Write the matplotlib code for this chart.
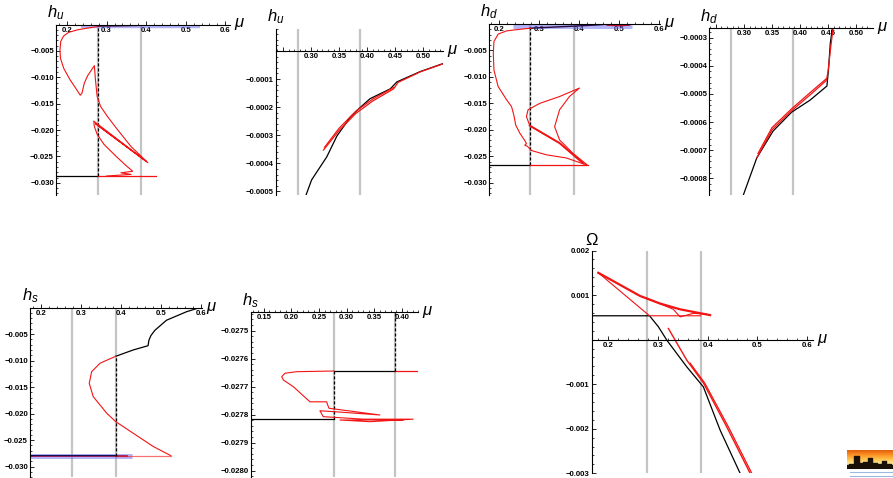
import numpy as np
import matplotlib
matplotlib.use("Agg")
import matplotlib.pyplot as plt
from matplotlib.ticker import FixedLocator, FuncFormatter

plt.rcParams["font.family"] = ["Liberation Sans", "DejaVu Sans"]
plt.rcParams["mathtext.fontset"] = "custom"
plt.rcParams["mathtext.it"] = "Liberation Sans:italic"
plt.rcParams["mathtext.rm"] = "Liberation Sans"

W, H = 893, 478

# critical values of mu (grey lines)
MU1, MU2 = 0.277, 0.387

# ---- panel 1 : h_u, full range
hu_path_mu = [0.276, 0.250, 0.225, 0.2035, 0.191, 0.184, 0.182, 0.1833, 0.1915, 0.2077, 0.223,
              0.2333, 0.2377, 0.2436, 0.252, 0.269,
              0.2718, 0.276, 0.2846, 0.3018, 0.3274, 0.3615, 0.4044,
              0.2718, 0.400, 0.2674,
              0.269, 0.276, 0.2933, 0.323, 0.3487, 0.366,
              0.336, 0.362, 0.30]
hu_path_h = [-0.0004, -0.0007, -0.00104, -0.0015, -0.0022, -0.0032, -0.0048, -0.0064, -0.0083, -0.0105, -0.0122,
             -0.0134, -0.0130, -0.0111, -0.0097, -0.0078,
             -0.0105, -0.0136, -0.0155, -0.0174, -0.0199, -0.0231, -0.0262,
             -0.0188, -0.0259, -0.0183,
             -0.0193, -0.0208, -0.0227, -0.0249, -0.0267, -0.0278,
             -0.0281, -0.0284, -0.0287]
hu_floor = -0.0287
hu_red_end = 0.426
hu_band_mu = [0.236, 0.537]
hu_band_h = -0.0003
hu_dark_mu = [0.277, 0.33, 0.39, 0.45]
hu_dark_h = [-0.0003, -0.00025, -0.00015, -0.00005]

# ---- panel 2 : h_u, zoom
hu2_black_mu = [0.291, 0.301, 0.328, 0.346, 0.37, 0.386, 0.405, 0.441, 0.453, 0.495, 0.535]
hu2_black_h = [-0.000513, -0.000459, -0.000377, -0.000303, -0.000235, -0.000204, -0.000170,
               -0.000135, -0.000110, -0.000073, -0.000045]
hu2_red_mu = [0.322, 0.35, 0.38, 0.41, 0.447, 0.455, 0.495, 0.535]
hu2_red_h = [-0.000353, -0.000283, -0.000222, -0.000178, -0.000135, -0.000112, -0.000074, -0.000046]
hu2_red2_mu = [0.324, 0.35, 0.38, 0.41, 0.447]
hu2_red2_h = [-0.000343, -0.000275, -0.000214, -0.000171, -0.000130]

# ---- panel 3 : h_d, full range
hd_path_mu = [0.279, 0.252, 0.219, 0.1983, 0.1876, 0.186, 0.1876, 0.198, 0.219, 0.2315, 0.2372, 0.242,
              0.252, 0.2645, 0.2687, 0.2645, 0.2712, 0.2811, 0.318, 0.368, 0.4216,
              0.3844, 0.3514, 0.339, 0.3514, 0.376, 0.401,
              0.3514, 0.3017, 0.2727, 0.2687, 0.277, 0.3514, 0.410]
hd_path_h = [-0.0008, -0.0010, -0.0013, -0.0019, -0.0033, -0.0055, -0.0087, -0.0118, -0.0143, -0.0156, -0.0172, -0.0191,
             -0.0206, -0.0220, -0.0226, -0.0229, -0.0231, -0.0239, -0.0247, -0.0253, -0.0267,
             -0.0244, -0.0219, -0.0194, -0.0162, -0.0137, -0.0121,
             -0.0137, -0.0150, -0.0162, -0.0175, -0.0192, -0.0225, -0.0263]
hd_thick_mu = [0.277, 0.3514, 0.410]
hd_thick_h = [-0.0192, -0.0225, -0.0263]
hd_floor = -0.0267
hd_red_end = 0.4216
hd_band_mu = [0.2355, 0.533]
hd_band_h = -0.00045
hd_dark_mu = [0.277, 0.36, 0.44, 0.475]
hd_dark_h = [-0.0008, -0.0005, -0.0002, 0.0]
hd_tip_mu = [0.47, 0.50, 0.525]
hd_tip_h = [-0.0002, -0.0003, -0.0002]

# ---- panel 4 : h_d, zoom
hd2_black_mu = [0.299, 0.323, 0.352, 0.385, 0.418, 0.448, 0.451, 0.454, 0.4577]
hd2_black_h = [-0.000859, -0.000727, -0.000632, -0.000565, -0.000522, -0.000472, -0.000408, -0.000320, -0.000267]
hd2_red_mu = [0.323, 0.35, 0.385, 0.42, 0.447, 0.450, 0.455, 0.459]
hd2_red_h = [-0.000727, -0.000628, -0.000560, -0.000500, -0.000452, -0.000420, -0.000330, -0.000267]
hd2_red2_mu = [0.325, 0.35, 0.385, 0.42, 0.447]
hd2_red2_h = [-0.000712, -0.000620, -0.000553, -0.000492, -0.000446]

# ---- panel 5 : h_s, full range
hs_black_mu = [0.387, 0.431, 0.468, 0.470, 0.475, 0.485, 0.514, 0.564, 0.598]
hs_black_h = [-0.0092, -0.0080, -0.0072, -0.0062, -0.0053, -0.0043, -0.0024, -0.0008, 0.0]
hs_red_mu = [0.387, 0.348, 0.327, 0.321, 0.331, 0.3645, 0.387, 0.431, 0.481, 0.5245]
hs_red_h = [-0.0092, -0.0105, -0.0121, -0.0143, -0.0168, -0.0199, -0.0215, -0.0237, -0.0262, -0.0279]
hs_floor = -0.0279
hs_band_mu = [0.173, 0.427]

# ---- panel 6 : h_s, zoom
hs2_upper = -0.027644
hs2_lower = -0.0278164
hs2_path_mu = [0.277, 0.2094, 0.1882, 0.1823, 0.1852, 0.2033, 0.2335, 0.2638, 0.2656, 0.268,
               0.3603, 0.2757, 0.2516, 0.2576, 0.3301, 0.4207, 0.3422, 0.2879, 0.4025]
hs2_path_h = [-0.027644, -0.0276464, -0.027652, -0.027664, -0.027676, -0.0277, -0.027754, -0.027754, -0.027765, -0.027777,
              -0.027801, -0.027789, -0.027786, -0.027807, -0.027816, -0.027816, -0.027825, -0.027819, -0.027819]

# ---- panel 7 : Omega
om_black_mu = [0.166, 0.283, 0.3008, 0.3177, 0.358, 0.3915, 0.4252, 0.4655]
om_black_v = [0.000535, 0.000535, 0.00029, -0.00001, -0.00061, -0.00106, -0.00203, -0.0030]
om_upper_mu = [0.1798, 0.2639, 0.3042, 0.3446, 0.405]
om_upper_v = [0.00150, 0.00098, 0.00081, 0.00068, 0.00055]
om_upper2_mu = [0.2774, 0.331, 0.3446, 0.3714, 0.398]
om_upper2_v = [0.00093, 0.00068, 0.00051, 0.00059, 0.00057]
om_link_mu = [0.1798, 0.283, 0.386]
om_link_v = [0.00150, 0.000535, 0.000535]
om_lower_mu = [0.321, 0.358, 0.3915, 0.4387, 0.4857]
om_lower_v = [0.00025, -0.00046, -0.00097, -0.00196, -0.0030]
om_lower2_mu = [0.365, 0.3945, 0.442, 0.489]
om_lower2_v = [-0.00053, -0.00098, -0.00196, -0.0030]

RED = "#f21414"
GREY = "#c4c4c4"
BAND = (0.42, 0.42, 0.95, 0.5)


def ticks_in(lo, hi, step):
    i0 = int(np.ceil(lo / step - 1e-6))
    i1 = int(np.floor(hi / step + 1e-6))
    return [round(i * step, 10) for i in range(i0, i1 + 1)]


def fmt(dec, skip_below=None):
    def f(v, pos):
        if abs(v) < 1e-12:
            return ""
        if skip_below is not None and v < skip_below:
            return ""
        return f"{v:.{dec}f}".replace("-", "\u2212")
    return FuncFormatter(f)


def make_panel(box, xlim, ylim, xaxis_at, xstep, ystep, xdec, ydec, label):
    left, top, right, bottom = box
    ax = plt.gcf().add_axes([left / W, 1 - bottom / H, (right - left) / W, (bottom - top) / H])
    ax.set_xlim(*xlim)
    ax.set_ylim(*ylim)
    ax.patch.set_alpha(0)
    for s in ("top", "right"):
        ax.spines[s].set_visible(False)
    ax.spines["bottom"].set_position(("data", xaxis_at))
    for s in ("left", "bottom"):
        ax.spines[s].set_linewidth(0.8)
    ax.xaxis.set_major_locator(FixedLocator(ticks_in(*xlim, xstep)))
    ax.xaxis.set_minor_locator(FixedLocator(ticks_in(*xlim, xstep / 5)))
    ax.yaxis.set_major_locator(FixedLocator(ticks_in(*ylim, ystep)))
    ax.yaxis.set_minor_locator(FixedLocator(ticks_in(*ylim, ystep / 5)))
    ax.xaxis.set_major_formatter(fmt(xdec, xlim[0] + 0.05 * (xlim[1] - xlim[0])))
    ax.yaxis.set_major_formatter(fmt(ydec))
    ax.tick_params(which="major", direction="in", length=3, width=0.6, pad=1.5,
                   labelsize=5.6)
    ax.tick_params(which="minor", direction="in", length=1.6, width=0.5)
    for t in ax.get_xticklabels() + ax.get_yticklabels():
        t.set_fontweight("bold")
    ax.annotate(label, xy=(0, 1), xycoords="axes fraction", xytext=(0, 2),
                textcoords="offset points", ha="center", va="bottom", fontsize=12)
    ax.annotate(r"$\mu$", xy=(xlim[1], xaxis_at), xycoords="data", xytext=(3, 0),
                textcoords="offset points", ha="left", va="center", fontsize=12,
                annotation_clip=False)
    for m in (MU1, MU2):
        ax.axvline(m, color=GREY, lw=1.6, zorder=0)
    return ax


fig = plt.figure(figsize=(W / 100, H / 100), dpi=100)

# panel 1
ax = make_panel((56, 24.5, 230, 195), (0.172, 0.612), (-0.0323, 0.0), 0.0, 0.1, 0.005, 1, 3, r"$h_u$")
ax.plot(hu_band_mu, [hu_band_h] * 2, color=BAND, lw=3.2, solid_capstyle="butt")
ax.plot(hu_dark_mu, hu_dark_h, color="#4a0c3c", lw=1.0)
ax.plot([0.172, MU1], [hu_floor] * 2, color="black", lw=0.9)
ax.plot([MU1, MU1], [hu_floor, -0.0003], color="black", lw=0.9, ls=(0, (2.5, 1.5)))
ax.plot([MU1, hu_red_end], [hu_floor] * 2, color=RED, lw=0.9)
ax.plot(hu_path_mu, hu_path_h, color=RED, lw=0.8)

# panel 2
ax = make_panel((276, 28.5, 443, 195), (0.2375, 0.535), (-0.000513, 0.00008), 0.0, 0.05, 0.0001, 2, 4, r"$h_u$")
ax.plot(hu2_black_mu, hu2_black_h, color="black", lw=0.9)
ax.plot(hu2_red_mu, hu2_red_h, color=RED, lw=0.9)
ax.plot(hu2_red2_mu, hu2_red2_h, color=RED, lw=0.9)

# panel 3
ax = make_panel((489.3, 24, 660, 195), (0.176, 0.602), (-0.0323, 0.0), 0.0, 0.1, 0.005, 1, 3, r"$h_d$")
ax.plot(hd_band_mu, [hd_band_h] * 2, color=BAND, lw=3.6, solid_capstyle="butt")
ax.plot(hd_dark_mu, hd_dark_h, color="#2a0a40", lw=1.0)
ax.plot(hd_tip_mu, hd_tip_h, color="#c01030", lw=1.2)
ax.plot([0.176, MU1], [hd_floor] * 2, color="black", lw=0.9)
ax.plot([MU1, MU1], [hd_floor, -0.0008], color="black", lw=0.9, ls=(0, (2.5, 1.5)))
ax.plot([MU1, hd_red_end], [hd_floor] * 2, color=RED, lw=0.9)
ax.plot(hd_path_mu, hd_path_h, color=RED, lw=0.8)
ax.plot(hd_thick_mu, hd_thick_h, color=RED, lw=1.4)

# panel 4
ax = make_panel((709.3, 28.3, 872.7, 195), (0.2383, 0.5296), (-0.000859, -0.000267), -0.000267,
                0.05, 0.0001, 2, 4, r"$h_d$")
ax.plot(hd2_black_mu, hd2_black_h, color="black", lw=0.9)
ax.plot(hd2_red_mu, hd2_red_h, color=RED, lw=0.9)
ax.plot(hd2_red2_mu, hd2_red2_h, color=RED, lw=0.9)

# panel 5
ax = make_panel((30, 307.5, 201.7, 477.3), (0.173, 0.602), (-0.0320, 0.0), 0.0, 0.1, 0.005, 1, 3, r"$h_s$")
ax.plot(hs_band_mu, [hs_floor] * 2, color=BAND, lw=3.6, solid_capstyle="butt")
ax.plot([0.173, 0.415], [hs_floor] * 2, color="#a0104a", lw=1.2)
ax.plot([0.173, MU2], [hs_floor + 0.0001] * 2, color="#101050", lw=0.8)
ax.plot([MU2, hs_red_mu[-1]], [hs_floor] * 2, color=RED, lw=0.9, alpha=0.6)
ax.plot([MU2, MU2], [hs_floor, hs_black_h[0]], color="black", lw=0.9, ls=(0, (2.5, 1.5)))
ax.plot(hs_black_mu, hs_black_h, color="black", lw=0.9)
ax.plot(hs_red_mu, hs_red_h, color=RED, lw=0.8)

# panel 6
HS2_TOP = -0.0274343
ax = make_panel((250.7, 312.3, 418.3, 477.3), (0.126, 0.43), (-0.0280236, HS2_TOP), HS2_TOP,
                0.05, 0.0001, 2, 4, r"$h_s$")
ax.plot([0.126, MU1], [hs2_lower] * 2, color="black", lw=0.9)
ax.plot([MU1, MU2], [hs2_upper] * 2, color="black", lw=0.9)
ax.plot([MU2, 0.43], [hs2_upper] * 2, color=RED, lw=0.9)
ax.plot([MU1, MU1], [hs2_lower, hs2_upper], color="black", lw=0.9, ls=(0, (2.5, 1.5)))
ax.plot([MU2, MU2], [hs2_upper, HS2_TOP], color="black", lw=0.9, ls=(0, (2.5, 1.5)))
ax.plot(hs2_path_mu, hs2_path_h, color=RED, lw=0.8)

# panel 7
ax = make_panel((591.7, 250.5, 813.3, 473.3), (0.1665, 0.613), (-0.003, 0.002), 0.0, 0.1, 0.001, 1, 3, "\u03a9")
ax.plot(om_black_mu, om_black_v, color="black", lw=0.9)
ax.plot(om_link_mu, om_link_v, color=RED, lw=0.8)
ax.plot(om_upper_mu, om_upper_v, color=RED, lw=1.6)
ax.plot(om_upper2_mu, om_upper2_v, color=RED, lw=0.8)
ax.plot(om_lower_mu, om_lower_v, color=RED, lw=1.0)
ax.plot(om_lower2_mu, om_lower2_v, color=RED, lw=0.9)

# small logo bottom right
logo = fig.add_axes([847 / W, 1 - 468 / H, 46 / W, 18 / H])
logo.axis("off")
sky = np.linspace(0, 1, 20)[:, None]
logo.imshow(sky, cmap="YlOrBr_r", aspect="auto", extent=(0, 1, 0, 1), vmin=-0.6, vmax=1.2)
logo_skyline = [0.15, 0.2, 0.65, 0.3, 0.35, 0.55, 0.3, 0.25, 0.4, 0.2, 0.18]
logo.fill_between(np.linspace(0, 1, len(logo_skyline)), 0, logo_skyline, color="#1a1008", step="mid")
logo.set_xlim(0, 1)
logo.set_ylim(0, 1)
fig.add_artist(plt.Line2D([850 / W, 893 / W], [1 - 472 / H] * 2, color="#9ab8e0", lw=0.8))
fig.add_artist(plt.Line2D([850 / W, 893 / W], [1 - 476 / H] * 2, color="#9ab8e0", lw=0.8))

fig.savefig("out.png", dpi=100)
